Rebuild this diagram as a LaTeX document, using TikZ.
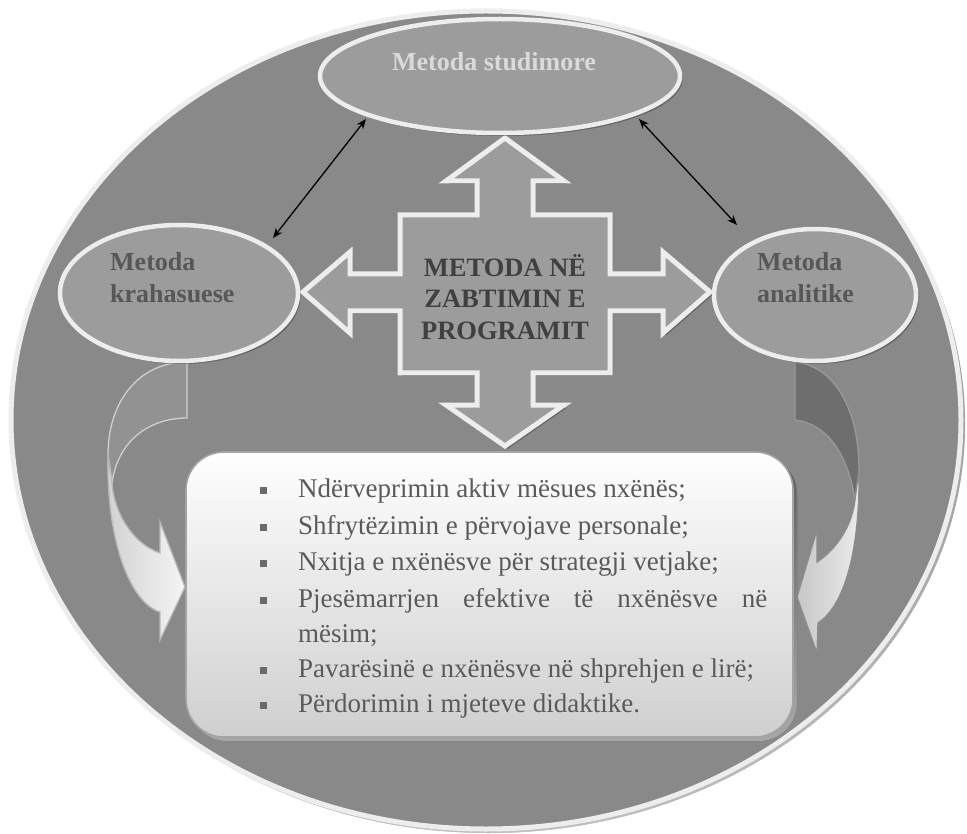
\documentclass[tikz,border=0pt]{standalone}
\usepackage{fontspec}
\setmainfont{Liberation Serif}
\usetikzlibrary{shapes.geometric,arrows.meta,shadows}
\definecolor{bgfill}{HTML}{898989}
\definecolor{ellfill}{HTML}{9C9C9C}
\definecolor{rim}{HTML}{EDEDED}
\definecolor{shade}{HTML}{4A4A4A}
\definecolor{darktext}{HTML}{575757}
\definecolor{centertext}{HTML}{404040}
\definecolor{toptext}{HTML}{DADADA}
\definecolor{listtext}{HTML}{5A5A5A}
\definecolor{bulletc}{HTML}{6A6A6A}
\definecolor{boxrim}{HTML}{A4A4A4}
\tikzset{
  softshadow/.style={drop shadow={shadow xshift=2.5pt,shadow yshift=-3pt,opacity=0.55,fill=shade}},
  ovalnode/.style={ellipse,fill=ellfill,draw=rim,line width=4.5pt,inner sep=0pt,softshadow},
  ovaltext/.style={anchor=base west,inner sep=0pt,text=darktext,font=\fontsize{26}{31}\selectfont\bfseries},
  crosstext/.style={anchor=base,inner sep=0pt,text=centertext,font=\fontsize{26.5}{31}\selectfont\bfseries},
  listline/.style={anchor=base west,inner sep=0pt,text=listtext,font=\fontsize{27}{31}\selectfont},
  bulletsq/.style={fill=bulletc},
  twohead/.style={{Stealth[length=10pt,width=8pt]}-{Stealth[length=10pt,width=8pt]},line width=1.3pt,black},
  backband/.style={line width=1.3pt},
  frontband/.style={draw=#1,line width=1.3pt}
}
\begin{document}
\begin{tikzpicture}[x=1pt,y=-1pt]
\useasboundingbox (0,0) rectangle (967,834);
\fill[white] (0,0) rectangle (967,834);
% outer big ellipse
\fill[shade,opacity=0.5] (489,424) ellipse [x radius=476pt, y radius=409pt];
\fill[bgfill] (486,420) ellipse [x radius=475pt, y radius=409pt];
\draw[rim,line width=5pt] (486,420) ellipse [x radius=475pt, y radius=409pt];

% curved arrow, left (back part)
\filldraw[backband,fill=bgfill!92!white,draw=rim!70!bgfill]
  (187,362) .. controls (140,362) and (108,400) .. (108,455)
  -- (112,483) .. controls (118,440) and (150,418) .. (187,418) -- cycle;
% curved arrow, left (front part)
\shade[left color=black!18,right color=black!4]
  (108,455) .. controls (106,540) and (130,603) .. (160,612)
  -- (160,640) -- (185,587) -- (160,522) -- (160,553)
  .. controls (135,545) and (114,515) .. (112,483) -- cycle;
\draw[frontband=black!28]
  (108,455) .. controls (106,540) and (130,603) .. (160,612)
  -- (160,640) -- (185,587) -- (160,522) -- (160,553)
  .. controls (135,545) and (114,515) .. (112,483) -- cycle;

% curved arrow, right (back part)
\filldraw[backband,fill=black!57,draw=black!40]
  (795,362) .. controls (835,366) and (859,410) .. (859,470)
  -- (855,500) .. controls (848,455) and (828,424) .. (795,420) -- cycle;
% curved arrow, right (front part)
\shade[left color=black!22,right color=black!8]
  (859,470) .. controls (860,550) and (845,605) .. (818,623)
  -- (817,653) -- (797,597) -- (817,530) -- (817,562)
  .. controls (838,548) and (852,525) .. (855,500) -- cycle;
\draw[frontband=black!45]
  (859,470) .. controls (860,550) and (845,605) .. (818,623)
  -- (817,653) -- (797,597) -- (817,530) -- (817,562)
  .. controls (838,548) and (852,525) .. (855,500) -- cycle;

% list box
\fill[shade,opacity=0.55,rounded corners=38pt] (189,456) rectangle (797,741);
\shade[top color=white,bottom color=black!19,rounded corners=38pt] (186,452) rectangle (793,737);
\draw[boxrim,line width=1.6pt,rounded corners=38pt] (186,452) rectangle (793,737);

% central four-way arrow
\filldraw[fill=ellfill,draw=rim,line width=5pt,line join=miter,softshadow]
  (505,138) -- (564,181) -- (533,181) -- (533,215) -- (610,215) -- (610,274)
  -- (663,274) -- (663,252) -- (710,292) -- (663,333) -- (663,311) -- (610,311)
  -- (610,373) -- (533,373) -- (533,405) -- (564,405) -- (505,446) -- (446,405)
  -- (477,405) -- (477,373) -- (400,373) -- (400,311) -- (350,311) -- (350,333)
  -- (303,292) -- (350,252) -- (350,274) -- (400,274) -- (400,215) -- (477,215)
  -- (477,181) -- (446,181) -- cycle;

% ovals
\node[ovalnode,minimum width=360pt,minimum height=114pt] (stud) at (500,76) {};
\node[ovalnode,minimum width=238pt,minimum height=136pt] (krah) at (179,293) {};
\node[ovalnode,minimum width=202pt,minimum height=132pt] (anal) at (815,295) {};

% oval texts
\node[anchor=base,inner sep=0pt,text=toptext,font=\fontsize{26}{31}\selectfont\bfseries] (studtxt) at (494,71) {Metoda studimore};
\node[ovaltext] (krah1) at (110,271) {Metoda};
\node[ovaltext] (krah2) at (110,303) {krahasuese};
\node[ovaltext] (anal1) at (757,271) {Metoda};
\node[ovaltext] (anal2) at (757,303) {analitike};

% central text
\node[crosstext] (c1) at (505,277) {METODA NË};
\node[crosstext] (c2) at (505,308) {ZABTIMIN E};
\node[crosstext] (c3) at (505,340) {PROGRAMIT};

% double-headed connectors
\coordinate (sl) at (366,119);
\coordinate (kl) at (273,238);
\coordinate (sr) at (639,119);
\coordinate (ar) at (737,225);
\draw[twohead] (kl) -- (sl);
\draw[twohead] (sr) -- (ar);

% list
\foreach \yy in {490,527,563,600,670,705}{
  \fill[bulletsq] (259.5,\yy-3.5) rectangle (266.5,\yy+3.5);
}
\node[listline] (l1) at (298,497) {Ndërveprimin aktiv mësues nxënës;};
\node[listline] (l2) at (298,534) {Shfrytëzimin e përvojave personale;};
\node[listline] (l3) at (298,570) {Nxitja e nxënësve për strategji vetjake;};
\node[listline] (l4) at (298,607) {\makebox[469pt][s]{Pjesëmarrjen efektive të nxënësve në}};
\node[listline] (l5) at (298,642) {mësim;};
\node[listline] (l6) at (298,677) {Pavarësinë e nxënësve në shprehjen e lirë;};
\node[listline] (l7) at (298,712) {Përdorimin i mjeteve didaktike.};
\end{tikzpicture}
\end{document}
